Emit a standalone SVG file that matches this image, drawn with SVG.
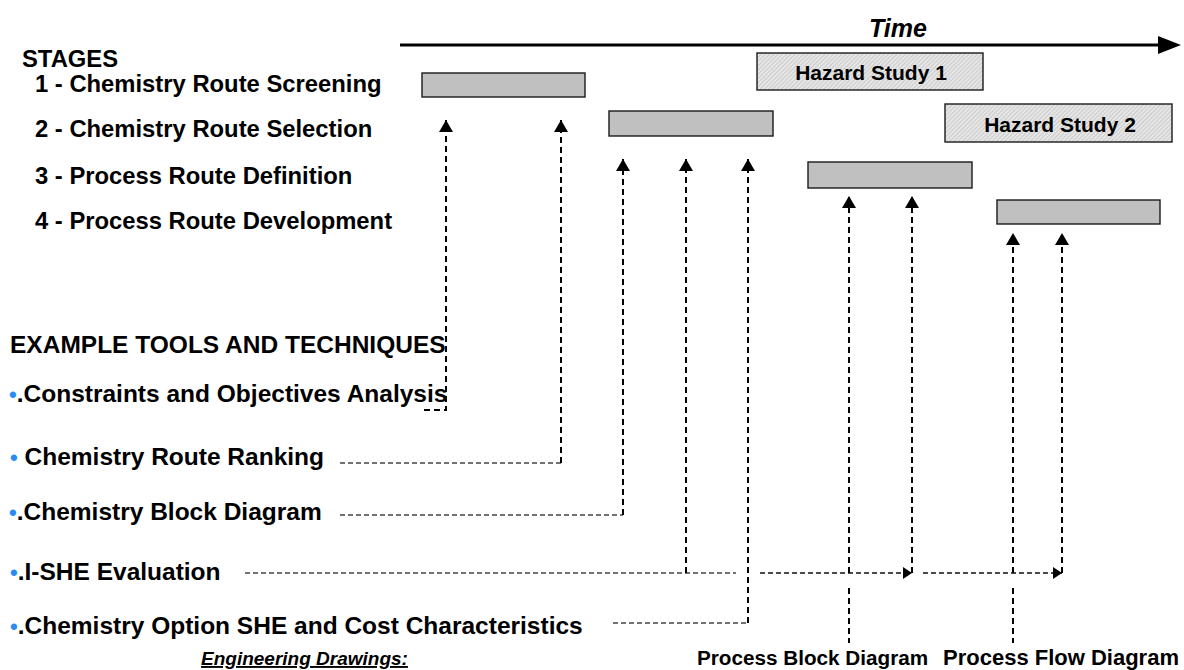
<svg xmlns="http://www.w3.org/2000/svg" width="1184" height="670" viewBox="0 0 1184 670">
  <style>
    text { font-family: "Liberation Sans", Arial, sans-serif; font-weight: bold; fill: #000; }
    .lbl { font-size: 23.8px; }
    .tool { font-size: 24.5px; }
    .hz { font-size: 21px; }
    .bul { fill: #2a8cf0; font-size: 22px; }
    .bar { fill: #c0c0c0; stroke: #1a1a1a; stroke-width: 1.4; }
    .haz { fill: url(#hatch); stroke: #1a1a1a; stroke-width: 1.4; }
    .v { fill: none; stroke: #000; stroke-width: 2; stroke-dasharray: 6 4; }
    .h { fill: none; stroke: #444; stroke-width: 1.3; stroke-dasharray: 5 3; }
    .hk { fill: none; stroke: #111; stroke-width: 1.6; stroke-dasharray: 5 3; }
  </style>
  <defs>
    <pattern id="hatch" width="3" height="3" patternUnits="userSpaceOnUse" patternTransform="rotate(45)">
      <rect width="3" height="3" fill="#e6e6e6"/>
      <line x1="0" y1="0" x2="0" y2="3" stroke="#b0b0b0" stroke-width="1"/>
    </pattern>
    <marker id="up" viewBox="0 0 12 14" markerWidth="12" markerHeight="14" refX="12" refY="7" orient="auto" markerUnits="userSpaceOnUse">
      <path d="M0,0 L12,7 L0,14 Z" fill="#000"/>
    </marker>
    <marker id="tip" viewBox="0 0 9 12" markerWidth="9" markerHeight="12" refX="9" refY="6" orient="auto" markerUnits="userSpaceOnUse">
      <path d="M0,0 L9,6 L0,12 Z" fill="#000"/>
    </marker>
  </defs>

  <!-- time axis -->
  <g id="time-axis">
    <line x1="400" y1="45" x2="1162" y2="45" stroke="#000" stroke-width="3"/>
    <path d="M1158,36 L1181,45 L1158,54 Z" fill="#000"/>
    <text x="869" y="37" font-size="25" font-style="italic">Time</text>
  </g>

  <!-- stage labels -->
  <g id="stages">
    <text class="lbl" x="22" y="67">STAGES</text>
    <text class="lbl" x="35" y="92">1 - Chemistry Route Screening</text>
    <text class="lbl" x="35" y="137">2 - Chemistry Route Selection</text>
    <text class="lbl" x="35" y="184">3 - Process Route Definition</text>
    <text class="lbl" x="35" y="229">4 - Process Route Development</text>
  </g>

  <!-- stage bars -->
  <g id="stage1"><rect class="bar" x="422" y="73" width="163" height="24"/></g>
  <g id="stage2"><rect class="bar" x="609" y="111" width="164" height="25"/></g>
  <g id="stage3"><rect class="bar" x="808" y="162" width="164" height="26"/></g>
  <g id="stage4"><rect class="bar" x="997" y="200" width="163" height="24"/></g>

  <!-- hazard studies -->
  <g id="hazard1">
    <rect class="haz" x="757" y="53" width="226" height="37"/>
    <text class="hz" x="871" y="80" text-anchor="middle">Hazard Study 1</text>
  </g>
  <g id="hazard2">
    <rect class="haz" x="945" y="104" width="227" height="38"/>
    <text class="hz" x="1060" y="132" text-anchor="middle">Hazard Study 2</text>
  </g>

  <!-- tools and techniques -->
  <g id="tools">
    <text class="tool" x="10" y="353">EXAMPLE TOOLS AND TECHNIQUES</text>
    <text class="tool" x="9" y="402"><tspan class="bul">•</tspan>.Constraints and Objectives Analysis</text>
    <text class="tool" x="10" y="465"><tspan class="bul">•</tspan> Chemistry Route Ranking</text>
    <text class="tool" x="9" y="520"><tspan class="bul">•</tspan>.Chemistry Block Diagram</text>
    <text class="tool" x="10" y="580"><tspan class="bul">•</tspan>.I-SHE Evaluation</text>
    <text class="tool" x="10" y="634"><tspan class="bul">•</tspan>.Chemistry Option SHE and Cost Characteristics</text>
  </g>

  <!-- engineering drawings -->
  <g id="drawings">
    <text x="201" y="665" font-size="19" font-style="italic" text-decoration="underline">Engineering Drawings:</text>
    <text x="697" y="665" font-size="20.7">Process Block Diagram</text>
    <text x="943" y="665" font-size="22">Process Flow Diagram</text>
  </g>

  <!-- connectors -->
  <g id="connectors">
    <path class="v" d="M424,410 H446 V120" marker-end="url(#up)"/>
    <path class="h" d="M340,463 H561"/>
    <path class="v" d="M561,463 V120" marker-end="url(#up)"/>
    <path class="h" d="M340,515 H623"/>
    <path class="v" d="M623,515 V159" marker-end="url(#up)"/>
    <path class="h" d="M245,573 H736"/>
    <path class="v" d="M686,573 V159" marker-end="url(#up)"/>
    <path class="h" d="M613,623 H748"/>
    <path class="v" d="M748,623 V159" marker-end="url(#up)"/>
    <path class="v" d="M849,573 V196" marker-end="url(#up)"/>
    <path class="v" d="M849,588 V643"/>
    <path class="hk" d="M760,573 H912" marker-end="url(#tip)"/>
    <path class="v" d="M912,573 V196" marker-end="url(#up)"/>
    <path class="v" d="M1013,573 V233" marker-end="url(#up)"/>
    <path class="v" d="M1013,588 V643"/>
    <path class="hk" d="M923,573 H1062" marker-end="url(#tip)"/>
    <path class="v" d="M1062,573 V233" marker-end="url(#up)"/>
  </g>
</svg>
